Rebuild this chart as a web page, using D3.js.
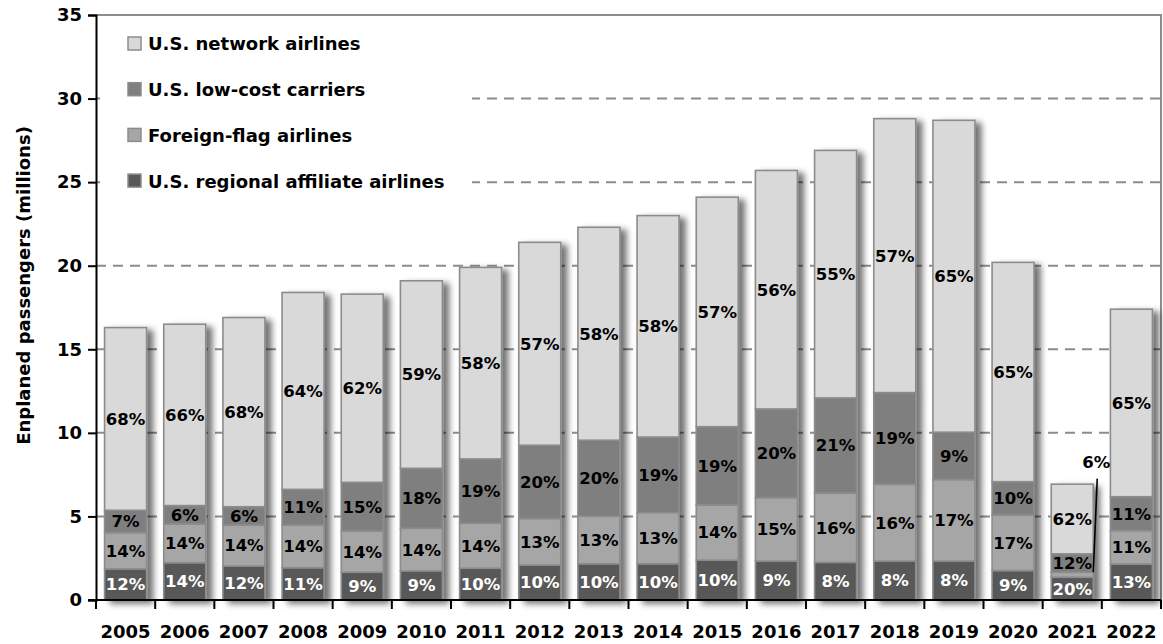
<!DOCTYPE html>
<html>
<head>
<meta charset="utf-8">
<script src="https://cdn.jsdelivr.net/npm/d3@7"></script>
<style>
  html, body { margin: 0; padding: 0; background: #fff; }
  svg { display: block; font-family: 'DejaVu Sans', sans-serif; }
</style>
</head>
<body>
<div id="chart"></div>
<script>
// values in millions of enplaned passengers
const years = ['2005', '2006', '2007', '2008', '2009', '2010', '2011', '2012', '2013',
  '2014', '2015', '2016', '2017', '2018', '2019', '2020', '2021', '2022'];
const regional = [1.86, 2.23, 2.03, 1.93, 1.66, 1.74, 1.90, 2.09, 2.17, 2.17, 2.39, 2.33, 2.25, 2.33, 2.33, 1.76, 1.36, 2.15];
const foreign = [2.17, 2.32, 2.46, 2.56, 2.47, 2.55, 2.69, 2.78, 2.84, 3.06, 3.30, 3.79, 4.15, 4.59, 4.87, 3.33, 0.30, 2.00];
const lowCost = [1.34, 1.10, 1.09, 2.13, 2.91, 3.59, 3.85, 4.39, 4.55, 4.52, 4.68, 5.31, 5.69, 5.49, 2.84, 1.99, 1.10, 2.03];
const network = [10.93, 10.85, 11.32, 11.78, 11.26, 11.22, 11.46, 12.14, 12.74, 13.25, 13.73, 14.27, 14.81, 16.39, 18.66, 13.12, 4.17, 11.22];

// percentage labels as printed on the bars
const pctRegional = [12, 14, 12, 11, 9, 9, 10, 10, 10, 10, 10, 9, 8, 8, 8, 9, 20, 13];
const pctForeign = [14, 14, 14, 14, 14, 14, 14, 13, 13, 13, 14, 15, 16, 16, 17, 17, 6, 11];
const pctLowCost = [7, 6, 6, 11, 15, 18, 19, 20, 20, 19, 19, 20, 21, 19, 9, 10, 12, 11];
const pctNetwork = [68, 66, 68, 64, 62, 59, 58, 57, 58, 58, 57, 56, 55, 57, 65, 65, 62, 65];

const yTicks = [0, 5, 10, 15, 20, 25, 30, 35];

const series = [
  { key: 'regional', name: 'U.S. regional affiliate airlines', values: regional, pct: pctRegional, fill: '#595959', text: '#fff' },
  { key: 'foreign', name: 'Foreign-flag airlines', values: foreign, pct: pctForeign, fill: '#a6a6a6', text: '#000' },
  { key: 'lowCost', name: 'U.S. low-cost carriers', values: lowCost, pct: pctLowCost, fill: '#7f7f7f', text: '#000' },
  { key: 'network', name: 'U.S. network airlines', values: network, pct: pctNetwork, fill: '#d9d9d9', text: '#000' },
];

const W = 1163, H = 644;
const m = { top: 15, right: 2, bottom: 44, left: 96 };
const iW = W - m.left - m.right, iH = H - m.top - m.bottom;

const rows = years.map((yr, i) => {
  const r = { year: yr, i };
  series.forEach(s => { r[s.key] = s.values[i]; });
  return r;
});
const stacked = d3.stack().keys(series.map(s => s.key))(rows);

const x = d3.scaleBand().domain(years).range([0, iW]).paddingInner(0.29).paddingOuter(0.145);
const y = d3.scaleLinear().domain([0, 35]).range([iH, 0]);

const svg = d3.select('#chart').append('svg').attr('width', W).attr('height', H);

const defs = svg.append('defs');
const f = defs.append('filter').attr('id', 'shadow')
  .attr('x', '-20%').attr('y', '-5%').attr('width', '170%').attr('height', '112%');
f.append('feDropShadow').attr('dx', 6).attr('dy', 3).attr('stdDeviation', 3.2)
  .attr('flood-color', '#000').attr('flood-opacity', 0.55);

const g = svg.append('g').attr('transform', `translate(${m.left},${m.top})`);

// plot frame (top + right)
g.append('path').attr('d', `M0,0H${iW}V${iH}`).attr('fill', 'none')
  .attr('stroke', '#8c8c8c').attr('stroke-width', 2);

// dashed gridlines
g.append('g').selectAll('line').data(yTicks.filter(t => t > 0 && t < 35)).enter().append('line')
  .attr('x1', 0).attr('x2', iW).attr('y1', d => y(d)).attr('y2', d => y(d))
  .attr('stroke', '#8c8c8c').attr('stroke-width', 2).attr('stroke-dasharray', '10,7');

// legend box hides the gridlines behind it
const legend = g.append('g').attr('transform', 'translate(4,6)');
legend.append('rect').attr('width', 372).attr('height', 186).attr('fill', '#fff');
series.slice().reverse().forEach((s, i) => {
  const ly = 23 + i * 45.7;
  legend.append('rect').attr('x', 28).attr('y', ly - 7).attr('width', 13).attr('height', 13)
    .attr('fill', s.fill).attr('stroke', '#8c8c8c').attr('stroke-width', 1.5);
  legend.append('text').attr('x', 48).attr('y', ly).attr('dy', '0.36em')
    .attr('font-size', 18).attr('font-weight', 700).attr('fill', '#000').text(s.name);
});

// bars, one group per year so the shadow falls behind the whole column
const bars = g.append('g').selectAll('g.bar').data(rows).enter().append('g')
  .attr('class', 'bar').attr('filter', 'url(#shadow)');
bars.each(function (r) {
  const sel = d3.select(this);
  stacked.forEach((layer, k) => {
    const d = layer[r.i];
    sel.append('rect')
      .attr('x', x(r.year)).attr('width', x.bandwidth())
      .attr('y', y(d[1])).attr('height', y(d[0]) - y(d[1]))
      .attr('fill', series[k].fill).attr('stroke', '#8c8c8c').attr('stroke-width', 1.6);
  });
});

// percentage labels
const labels = g.append('g');
stacked.forEach((layer, k) => {
  const s = series[k];
  layer.forEach((d, i) => {
    const cx = x(years[i]) + x.bandwidth() / 2;
    const h = y(d[0]) - y(d[1]);
    if (h < 10) {
      // thin segment: label sits above with a leader line
      const bx = x(years[i]) + x.bandwidth();
      labels.append('line')
        .attr('x1', bx + 4).attr('y1', y(d[1] + 5.6))
        .attr('x2', bx).attr('y2', y(d[1]))
        .attr('stroke', '#000').attr('stroke-width', 1.6);
      labels.append('text').attr('x', bx + 3).attr('y', y(d[1] + 6.6)).attr('dy', '0.36em')
        .attr('text-anchor', 'middle').attr('font-size', 16.5).attr('font-weight', 700)
        .attr('fill', '#000').text(s.pct[i] + '%');
      return;
    }
    labels.append('text').attr('x', cx).attr('y', (y(d[0]) + y(d[1])) / 2).attr('dy', '0.36em')
      .attr('text-anchor', 'middle').attr('font-size', 16.5).attr('font-weight', 700)
      .attr('fill', s.text).text(s.pct[i] + '%');
  });
});

// y axis
const yAxis = g.append('g').call(d3.axisLeft(y).tickValues(yTicks).tickSize(8).tickPadding(6));
yAxis.select('.domain').attr('stroke', '#000').attr('stroke-width', 2);
yAxis.selectAll('.tick line').attr('stroke', '#000').attr('stroke-width', 2);
yAxis.selectAll('.tick text').attr('font-size', 18).attr('font-weight', 700)
  .attr('fill', '#000').attr('font-family', 'DejaVu Sans');

// x axis: ticks at band boundaries
const step = x.step();
g.append('line').attr('x1', -8).attr('x2', iW).attr('y1', iH).attr('y2', iH)
  .attr('stroke', '#000').attr('stroke-width', 2.2);
g.append('g').selectAll('line').data(d3.range(years.length + 1)).enter().append('line')
  .attr('x1', i => i * step).attr('x2', i => i * step)
  .attr('y1', iH).attr('y2', iH + 9).attr('stroke', '#000').attr('stroke-width', 2);
g.append('g').selectAll('text').data(years).enter().append('text')
  .attr('x', d => x(d) + x.bandwidth() / 2).attr('y', iH + 32).attr('dy', '0.36em')
  .attr('text-anchor', 'middle').attr('font-size', 18).attr('font-weight', 700)
  .attr('fill', '#000').text(d => d);

// y axis title
svg.append('text')
  .attr('transform', `translate(24,${m.top + iH / 2 - 22}) rotate(-90)`)
  .attr('dy', '0.36em').attr('text-anchor', 'middle')
  .attr('font-size', 18).attr('font-weight', 700).attr('fill', '#000')
  .text('Enplaned passengers (millions)');
</script>
</body>
</html>
